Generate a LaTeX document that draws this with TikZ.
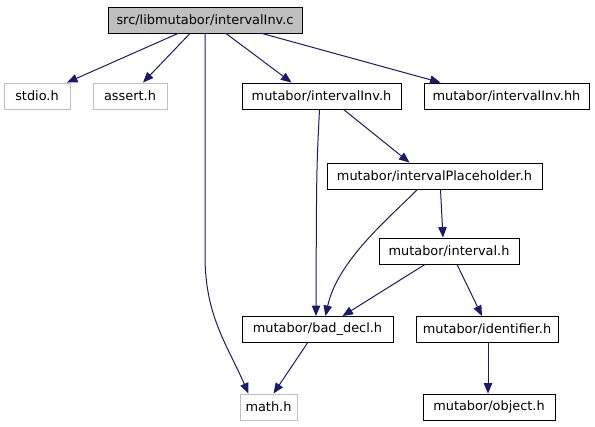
\documentclass[tikz,border=0pt]{standalone}
\usepackage{fontspec}
\setmainfont{DejaVu Sans}
\usetikzlibrary{arrows.meta}
\definecolor{edgeblue}{HTML}{191970}
\definecolor{extgray}{HTML}{BFBFBF}
\begin{document}
\begin{tikzpicture}[x=1pt,y=-1pt,
  file/.style={draw=black, fill=white, line width=0.9pt, minimum height=26pt,
    inner sep=0pt, font=\fontsize{12.9}{15}\selectfont},
  sysfile/.style={file, draw=extgray},
  mainfile/.style={file, fill=extgray},
  edge/.style={draw=edgeblue, line width=1pt,
    -{Triangle[length=10.5pt,width=8.5pt]}}]
\useasboundingbox (0,0) rectangle (595,427);

\node[mainfile, minimum width=194pt] (top)    at (205,20)    {src/libmutabor/intervalInv.c};
\node[sysfile,  minimum width=66pt]  (stdio)  at (37,96)     {stdio.h};
\node[sysfile,  minimum width=74pt]  (assert) at (130,96)    {assert.h};
\node[file,     minimum width=159pt] (iinvh)  at (321.5,96)  {mutabor/intervalInv.h};
\node[file,     minimum width=165pt] (iinvhh) at (506.5,96)  {mutabor/intervalInv.hh};
\node[file,     minimum width=215pt] (ph)     at (434.5,176) {mutabor/intervalPlaceholder.h};
\node[file,     minimum width=140pt] (intv)   at (449,251)   {mutabor/interval.h};
\node[file,     minimum width=151pt] (bad)    at (317.5,329.5) {mutabor/bad\_decl.h};
\node[file,     minimum width=142pt] (ident)  at (487,329.5) {mutabor/identifier.h};
\node[sysfile,  minimum width=57pt]  (math)   at (268.5,407) {math.h};
\node[file,     minimum width=132pt] (obj)    at (489,407)   {mutabor/object.h};

% includes of the source file
\draw[edge] ([xshift=-27pt]top.south) -- ([xshift=30pt]stdio.north);
\draw[edge] ([xshift=-15pt]top.south) -- ([xshift=13pt]assert.north);
\draw[edge] (top.south) -- ++(0,222)
  .. controls +(0,60) and +(-22,-50) .. ([xshift=-20pt]math.north);
\draw[edge] ([xshift=21pt]top.south) -- ([xshift=-30pt]iinvh.north);
\draw[edge] ([xshift=57pt]top.south) -- ([xshift=-66pt]iinvhh.north);

% header dependencies
\draw[edge] ([xshift=-2pt]iinvh.south)
  .. controls +(-3,60) .. ([xshift=-1.5pt]bad.north);
\draw[edge] ([xshift=22pt]iinvh.south) -- ([xshift=-25pt]ph.north);
\draw[edge] ([xshift=-17pt]ph.south)
  .. controls +(-30,30) and +(12,-55) .. ([xshift=8pt]bad.north);
\draw[edge] ([xshift=6pt]ph.south) -- ([xshift=-6pt]intv.north);
\draw[edge] ([xshift=-24pt]intv.south) -- ([xshift=25pt]bad.north);
\draw[edge] ([xshift=8pt]intv.south) -- ([xshift=-5pt]ident.north);
\draw[edge] ([xshift=-10pt]bad.south) -- ([xshift=5pt]math.north);
\draw[edge] ([xshift=1pt]ident.south) -- ([xshift=-1pt]obj.north);
\end{tikzpicture}
\end{document}
